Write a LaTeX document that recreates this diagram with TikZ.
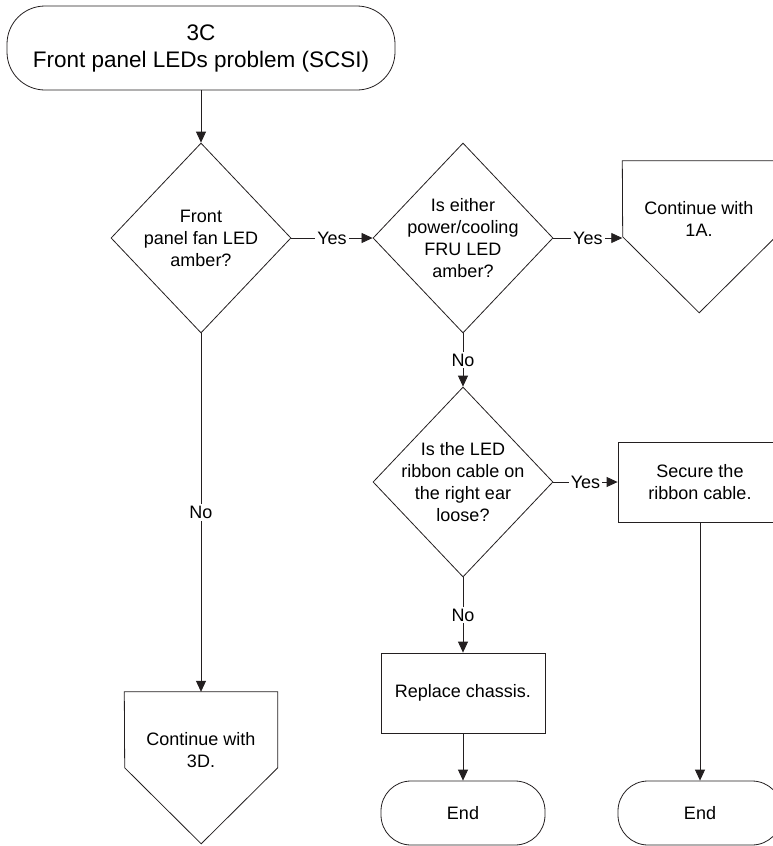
\documentclass[tikz,border=0pt]{standalone}
\usepackage{fontspec}
\setmainfont{Liberation Sans}
\usepackage{xcolor}
\usepackage{tikz}
\usetikzlibrary{shapes.geometric, arrows.meta, positioning}
\definecolor{ink}{HTML}{231F20}
\newcommand\startfont{\fontsize{22.5}{27}\selectfont}
\newcommand\bodyfont{\fontsize{18}{22}\selectfont}
\tikzset{
  term/.style  ={draw=ink, line width=0.8pt, rounded corners=30pt,
                 minimum width=164pt, minimum height=64pt, align=center,
                 font=\bodyfont},
  dec/.style   ={diamond, draw=ink, line width=0.8pt, inner sep=0pt,
                 minimum width=180pt, minimum height=190pt},
  dtext/.style ={align=center, font=\bodyfont, inner sep=0pt},
  proc/.style  ={draw=ink, line width=0.8pt, minimum width=164pt,
                 minimum height=80pt, align=center, font=\bodyfont},
  cont/.style  ={minimum width=153pt, minimum height=116pt, align=center,
                 font=\bodyfont, inner sep=0pt},
  edge/.style  ={draw=ink, line width=0.8pt},
  flow/.style  ={-{Triangle[length=11pt,width=10pt]}, line width=0.8pt, draw=ink},
  lbl/.style   ={fill=white, font=\bodyfont, inner sep=2pt}
}
\begin{document}
\begin{tikzpicture}[x=1pt, y=-1pt]
  \useasboundingbox (0,0) rectangle (772,846);

  \node[term, minimum width=388pt, minimum height=84pt, rounded corners=38pt,
        font=\startfont] (start) at (201,48) {3C\\Front panel LEDs problem (SCSI)};

  \node[dec]   (fan)    at (201,238) {};
  \node[dtext] (fantxt) at (fan) {Front\\panel fan LED\\amber?};
  \node[dec]   (psu)    at (463,238) {};
  \node[dtext] (psutxt) at (psu) {Is either\\power/cooling\\FRU LED\\amber?};
  \node[cont]  (c1a)    at (699,219) {Continue with\\1A.};

  \node[dec]   (rib)    at (463,482) {};
  \node[dtext] (ribtxt) at (rib) {Is the LED\\ribbon cable on\\the right ear\\loose?};
  \node[proc]  (secure) at (700,482) {Secure the\\ribbon cable.};

  \node[proc]  (chassis) at (463,693) {Replace chassis.};
  \node[term]  (end1)    at (463,813) {End};
  \node[term]  (end2)    at (700,813) {End};

  \node[cont]  (c3d)    at (201,750) {Continue with\\3D.};

  % off-page connectors
  \foreach \n in {c1a, c3d}
    \draw[edge] (\n.north west) -- (\n.north east) -- ++(0,76)
      -- ++(-76.5,76) -- ++(-76.5,-76) -- cycle;

  \draw[flow] (start) -- (fan);
  \draw[flow] (fan) -- node[lbl] {Yes} (psu);
  \draw[flow] (psu) -- node[lbl] {Yes} (psu -| c1a.west);
  \draw[flow] (psu) -- node[lbl] {No} (rib);
  \draw[flow] (rib) -- node[lbl] {Yes} (secure);
  \draw[flow] (rib) -- node[lbl] {No} (chassis);
  \draw[flow] (chassis) -- (end1);
  \draw[flow] (secure) -- (end2);
  \draw[flow] (fan) -- node[lbl] {No} (c3d);
\end{tikzpicture}
\end{document}
